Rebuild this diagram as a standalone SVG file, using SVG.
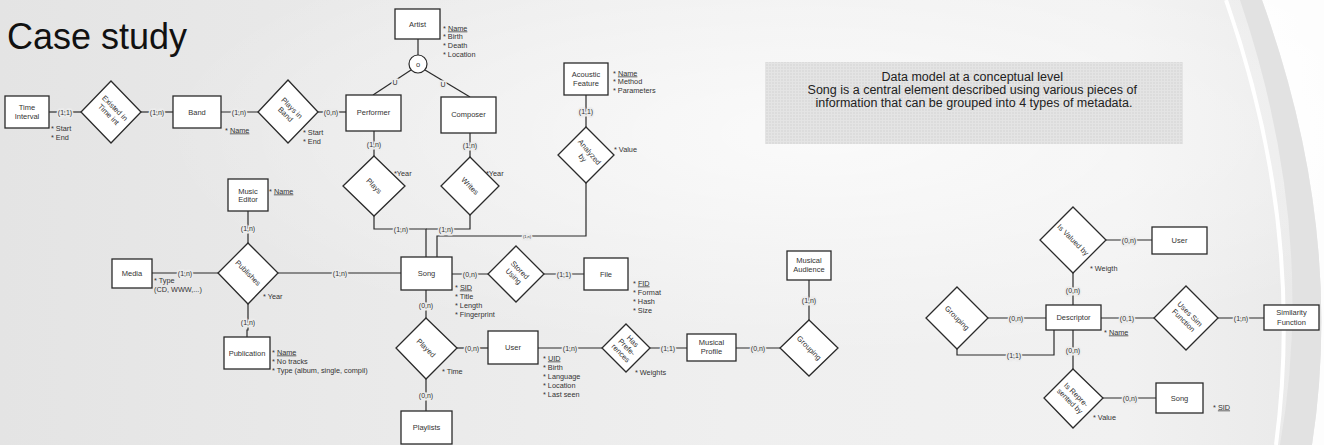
<svg xmlns="http://www.w3.org/2000/svg" width="1324" height="445" viewBox="0 0 1324 445">
<defs>
<linearGradient id="bg" x1="0" y1="0" x2="1" y2="0">
<stop offset="0" stop-color="#e4e4e4"/>
<stop offset="0.55" stop-color="#efefef"/>
<stop offset="0.85" stop-color="#f1f1f1"/>
<stop offset="1" stop-color="#e9e9e9"/>
</linearGradient>
<radialGradient id="glow" cx="0.62" cy="0.3" r="0.5">
<stop offset="0" stop-color="#ffffff" stop-opacity="0.7"/>
<stop offset="1" stop-color="#ffffff" stop-opacity="0"/>
</radialGradient>
<pattern id="grid" width="3" height="3" patternUnits="userSpaceOnUse">
<rect width="3" height="3" fill="#dcdcdc"/>
<path d="M0,0.5H3M0.5,0V3" stroke="#e4e4e4" stroke-width="1"/>
</pattern>
<style>
.ent{fill:#fff;stroke:#2a2a2a;stroke-width:1.3}
.rel{fill:#fff;stroke:#2a2a2a;stroke-width:1.3}
.t{font-family:"Liberation Sans",Arial,sans-serif;font-size:7.5px;fill:#333;text-anchor:middle}
.a{font-family:"Liberation Sans",Arial,sans-serif;font-size:7.3px;fill:#333}
.c{font-family:"Liberation Sans",Arial,sans-serif;font-size:7px;fill:#333;text-anchor:middle;dominant-baseline:central;paint-order:stroke;stroke:#ececec;stroke-width:3px}
.ln{fill:none;stroke:#2a2a2a;stroke-width:1.2}
.u{text-decoration:underline}
</style>
</defs>
<rect width="1324" height="445" fill="url(#bg)"/>
<rect width="1324" height="445" fill="url(#glow)"/>
<path d="M1262,0 Q1345,230 1312,445 L1324,445 L1324,0 Z" fill="#ffffff" opacity="0.9"/>
<path d="M1240,0 Q1318,230 1280,445 L1312,445 Q1345,230 1262,0 Z" fill="#e2e2e2"/>
<path d="M1226,0 Q1305,225 1276,445" fill="none" stroke="#ffffff" stroke-width="4"/>

<text x="7" y="49" font-family="Liberation Sans, Arial, sans-serif" font-size="36" fill="#111">Case study</text>

<g id="info">
<rect x="765" y="62" width="418" height="82" fill="url(#grid)"/>
<text font-family="Liberation Sans, Arial, sans-serif" font-size="12.5" fill="#222" text-anchor="middle">
<tspan x="974" y="81">Data model at a conceptual level</tspan>
<tspan x="974" y="94">Song is a central element described using various pieces of</tspan>
<tspan x="974" y="107">information that can be grouped into 4 types of metadata.</tspan>
</text>
</g>

<g id="connectors">
<path class="ln" d="M49,112H81"/>
<path class="ln" d="M141,112H173"/>
<path class="ln" d="M221,112H258"/>
<path class="ln" d="M318,112H346"/>
<path class="ln" d="M418,39V55"/>
<path class="ln" d="M411,70L373,95"/>
<path class="ln" d="M425,70L470,97"/>
<path class="ln" d="M374,131V156"/>
<path class="ln" d="M470,133V157"/>
<path class="ln" d="M374,216V229H426V257"/>
<path class="ln" d="M470,215V229H426"/>
<path class="ln" d="M586,183V236H437V257"/>
<path class="ln" d="M586,95V127"/>
<path class="ln" d="M248,211V243"/>
<path class="ln" d="M152,273H218"/>
<path class="ln" d="M278,273H401"/>
<path class="ln" d="M248,304V330H247V337"/>
<path class="ln" d="M452,274H488"/>
<path class="ln" d="M544,274H584"/>
<path class="ln" d="M426,290V318"/>
<path class="ln" d="M426,379V411"/>
<path class="ln" d="M457,348H488"/>
<path class="ln" d="M538,348H602"/>
<path class="ln" d="M650,348H687"/>
<path class="ln" d="M736,348H780"/>
<path class="ln" d="M809,280V320"/>
<path class="ln" d="M1106,240H1152"/>
<path class="ln" d="M1073,273V305"/>
<path class="ln" d="M988,318H1046"/>
<path class="ln" d="M957,349V355H1054V330"/>
<path class="ln" d="M1101,318H1154"/>
<path class="ln" d="M1218,318H1264"/>
<path class="ln" d="M1073,330V369"/>
<path class="ln" d="M1103,398H1156"/>
<text class="c" x="65" y="112">(1,1)</text>
<text class="c" x="157" y="112">(1,n)</text>
<text class="c" x="239" y="112">(1,n)</text>
<text class="c" x="331" y="112">(0,n)</text>
<text class="c" x="395" y="82">U</text>
<text class="c" x="443" y="84">U</text>
<text class="c" x="374" y="144">(1,n)</text>
<text class="c" x="470" y="145">(1,n)</text>
<text class="c" x="401" y="229">(1,n)</text>
<text class="c" x="446" y="229">(1,n)</text>
<text class="c" x="527" y="236" style="font-size:4px">(1,n)</text>
<text class="c" x="586" y="111">(1,1)</text>
<text class="c" x="248" y="228">(1,n)</text>
<text class="c" x="185" y="273">(1,n)</text>
<text class="c" x="340" y="273">(1,n)</text>
<text class="c" x="248" y="322">(1,n)</text>
<text class="c" x="470" y="274">(0,n)</text>
<text class="c" x="564" y="274">(1,1)</text>
<text class="c" x="426" y="305">(0,n)</text>
<text class="c" x="426" y="395">(0,n)</text>
<text class="c" x="472" y="348">(0,n)</text>
<text class="c" x="570" y="348">(1,n)</text>
<text class="c" x="668" y="348">(1,1)</text>
<text class="c" x="758" y="348">(0,n)</text>
<text class="c" x="809" y="300">(1,n)</text>
<text class="c" x="1129" y="240">(0,n)</text>
<text class="c" x="1073" y="290">(0,n)</text>
<text class="c" x="1016" y="318">(0,n)</text>
<text class="c" x="1014" y="355">(1,1)</text>
<text class="c" x="1127" y="318">(0,1)</text>
<text class="c" x="1241" y="318">(1,n)</text>
<text class="c" x="1073" y="350">(0,n)</text>
<text class="c" x="1130" y="398">(0,n)</text>
</g>

<g id="time-interval">
<rect class="ent" x="5" y="96" width="44" height="32"/>
<text class="t" x="27" y="109.5">Time</text>
<text class="t" x="27" y="118.5">Interval</text>
<text class="a" x="51" y="130.5">* Start</text>
<text class="a" x="51" y="139.5">* End</text>
</g>
<g id="existed-in-time-int">
<polygon class="rel" points="111,81 141,112 111,143 81,112"/>
<text class="t" transform="rotate(45 111 112)"><tspan x="111" y="109">Existed in</tspan><tspan x="111" y="118">Time int</tspan></text>
</g>
<g id="band">
<rect class="ent" x="173" y="96" width="48" height="32"/>
<text class="t" x="197" y="114.5">Band</text>
<text class="a" x="225" y="132.5">* <tspan class="u">Name</tspan></text>
</g>
<g id="plays-in-band">
<polygon class="rel" points="288,80 318,112 288,143 258,112"/>
<text class="t" transform="rotate(45 288 112)"><tspan x="288" y="109">Plays in</tspan><tspan x="288" y="118">Band</tspan></text>
<text class="a" x="303" y="135">* Start</text>
<text class="a" x="303" y="144">* End</text>
</g>
<g id="artist">
<rect class="ent" x="395" y="9" width="45" height="30"/>
<text class="t" x="417.5" y="26.5">Artist</text>
<text class="a" x="443" y="30.5">* <tspan class="u">Name</tspan></text>
<text class="a" x="443" y="38.5">* Birth</text>
<text class="a" x="443" y="47.5">* Death</text>
<text class="a" x="443" y="56.5">* Location</text>
</g>
<g id="overlap">
<circle cx="418" cy="64" r="9" fill="#fff" stroke="#2a2a2a" stroke-width="1.2"/>
<text class="t" x="418" y="66.5">o</text>
</g>
<g id="performer">
<rect class="ent" x="346" y="95" width="55" height="36"/>
<text class="t" x="373.5" y="115">Performer</text>
</g>
<g id="composer">
<rect class="ent" x="441" y="97" width="55" height="36"/>
<text class="t" x="468.5" y="117">Composer</text>
</g>
<g id="plays">
<polygon class="rel" points="374,156 405,186 374,216 343,186"/>
<text class="t" transform="rotate(45 374 186)" x="374" y="188.5">Plays</text>
<text class="a" x="394" y="175.5">*Year</text>
</g>
<g id="writes">
<polygon class="rel" points="470,157 499,186 470,215 441,186"/>
<text class="t" transform="rotate(45 470 186)" x="470" y="188.5">Writes</text>
<text class="a" x="486" y="175.5">*Year</text>
</g>
<g id="acoustic-feature">
<rect class="ent" x="564" y="63" width="44" height="32"/>
<text class="t" x="586" y="76.5">Acoustic</text>
<text class="t" x="586" y="85.5">Feature</text>
<text class="a" x="613" y="75.5">* <tspan class="u">Name</tspan></text>
<text class="a" x="613" y="84">* Method</text>
<text class="a" x="613" y="93">* Parameters</text>
</g>
<g id="analyzed-by">
<polygon class="rel" points="586,127 614,155 586,183 558,155"/>
<text class="t" transform="rotate(50 586 155)"><tspan x="586" y="153">Analyzed</tspan><tspan x="586" y="162">by</tspan></text>
<text class="a" x="614" y="151.5">* Value</text>
</g>
<g id="music-editor">
<rect class="ent" x="228" y="179" width="40" height="32"/>
<text class="t" x="248" y="193.5">Music</text>
<text class="t" x="248" y="202">Editor</text>
<text class="a" x="269" y="193.5">* <tspan class="u">Name</tspan></text>
</g>
<g id="media">
<rect class="ent" x="112" y="259" width="40" height="29"/>
<text class="t" x="132" y="276">Media</text>
<text class="a" x="154" y="282.5">* Type</text>
<text class="a" x="154" y="291.5">(CD, WWW,...)</text>
</g>
<g id="publishes">
<polygon class="rel" points="248,243 278,273 248,304 218,273"/>
<text class="t" transform="rotate(45 248 273)" x="248" y="275.5">Publishes</text>
<text class="a" x="263" y="298.5">* Year</text>
</g>
<g id="publication">
<rect class="ent" x="224" y="337" width="46" height="32"/>
<text class="t" x="247" y="355.5">Publication</text>
<text class="a" x="272" y="354.5">* <tspan class="u">Name</tspan></text>
<text class="a" x="272" y="363.5">* No tracks</text>
<text class="a" x="272" y="372.5">* Type (album, single, compil)</text>
</g>
<g id="song">
<rect class="ent" x="401" y="257" width="51" height="33"/>
<text class="t" x="426.5" y="276">Song</text>
<text class="a" x="455" y="289.5">* <tspan class="u">SID</tspan></text>
<text class="a" x="455" y="298.5">* Title</text>
<text class="a" x="455" y="307.5">* Length</text>
<text class="a" x="455" y="316.5">* Fingerprint</text>
</g>
<g id="stored-using">
<polygon class="rel" points="516,246 544,274 516,302 488,274"/>
<text class="t" transform="rotate(45 516 274)"><tspan x="516" y="271">Stored</tspan><tspan x="516" y="280">Using</tspan></text>
</g>
<g id="file">
<rect class="ent" x="584" y="258" width="44" height="32"/>
<text class="t" x="606" y="276.5">File</text>
<text class="a" x="633" y="285.5">* <tspan class="u">FID</tspan></text>
<text class="a" x="633" y="294.5">* Format</text>
<text class="a" x="633" y="303.5">* Hash</text>
<text class="a" x="633" y="313">* Size</text>
</g>
<g id="played">
<polygon class="rel" points="426,318 457,348 426,379 396,348"/>
<text class="t" transform="rotate(45 426 348)" x="426" y="350.5">Played</text>
<text class="a" x="442" y="373.5">* Time</text>
</g>
<g id="playlists">
<rect class="ent" x="401" y="411" width="51" height="33"/>
<text class="t" x="426.5" y="430">Playlists</text>
</g>
<g id="user">
<rect class="ent" x="488" y="331" width="50" height="33"/>
<text class="t" x="513" y="350">User</text>
<text class="a" x="543" y="360.5">* <tspan class="u">UID</tspan></text>
<text class="a" x="543" y="369.5">* Birth</text>
<text class="a" x="543" y="378.5">* Language</text>
<text class="a" x="543" y="387.5">* Location</text>
<text class="a" x="543" y="396.5">* Last seen</text>
</g>
<g id="has-preferences">
<polygon class="rel" points="626,324 650,348 626,372 602,348"/>
<text class="t" transform="rotate(45 626 348)"><tspan x="626" y="341">Has</tspan><tspan x="626" y="349.5">Prefe-</tspan><tspan x="626" y="358">rences</tspan></text>
<text class="a" x="635" y="374.5">* Weights</text>
</g>
<g id="musical-profile">
<rect class="ent" x="687" y="334" width="49" height="27"/>
<text class="t" x="711.5" y="344.5">Musical</text>
<text class="t" x="711.5" y="353.5">Profile</text>
</g>
<g id="musical-audience">
<rect class="ent" x="787" y="251" width="44" height="29"/>
<text class="t" x="809" y="262.5">Musical</text>
<text class="t" x="809" y="271.5">Audience</text>
</g>
<g id="grouping">
<polygon class="rel" points="809,320 838,348 809,376 780,348"/>
<text class="t" transform="rotate(45 809 348)" x="809" y="350.5">Grouping</text>
</g>

<g id="is-valued-by">
<polygon class="rel" points="1073,207 1106,240 1073,273 1040,240"/>
<text class="t" transform="rotate(45 1073 240)" x="1073" y="242.5">Is Valued by</text>
<text class="a" x="1090" y="270.5">* Weigth</text>
</g>
<g id="user-2">
<rect class="ent" x="1152" y="227" width="55" height="27"/>
<text class="t" x="1179.5" y="243">User</text>
</g>
<g id="descriptor">
<rect class="ent" x="1046" y="305" width="55" height="25"/>
<text class="t" x="1073.5" y="320">Descriptor</text>
<text class="a" x="1104" y="334.5">* <tspan class="u">Name</tspan></text>
</g>
<g id="grouping-2">
<polygon class="rel" points="957,287 988,318 957,349 926,318"/>
<text class="t" transform="rotate(45 957 318)" x="957" y="320.5">Grouping</text>
</g>
<g id="uses-sim-function">
<polygon class="rel" points="1186,286 1218,318 1186,350 1154,318"/>
<text class="t" transform="rotate(45 1186 318)"><tspan x="1186" y="315">Uses Sim</tspan><tspan x="1186" y="324">Function</tspan></text>
</g>
<g id="similarity-function">
<rect class="ent" x="1264" y="305" width="55" height="25"/>
<text class="t" x="1291.5" y="315">Similarity</text>
<text class="t" x="1291.5" y="325">Function</text>
</g>
<g id="is-represented-by">
<polygon class="rel" points="1073,369 1103,398 1073,428 1044,398"/>
<text class="t" transform="rotate(45 1073 398)"><tspan x="1073" y="396">Is Repre-</tspan><tspan x="1073" y="405">sented by</tspan></text>
<text class="a" x="1093" y="419.5">* Value</text>
</g>
<g id="song-2">
<rect class="ent" x="1156" y="383" width="47" height="30"/>
<text class="t" x="1179.5" y="400.5">Song</text>
<text class="a" x="1213" y="409.5">* <tspan class="u">SID</tspan></text>
</g>
</svg>
